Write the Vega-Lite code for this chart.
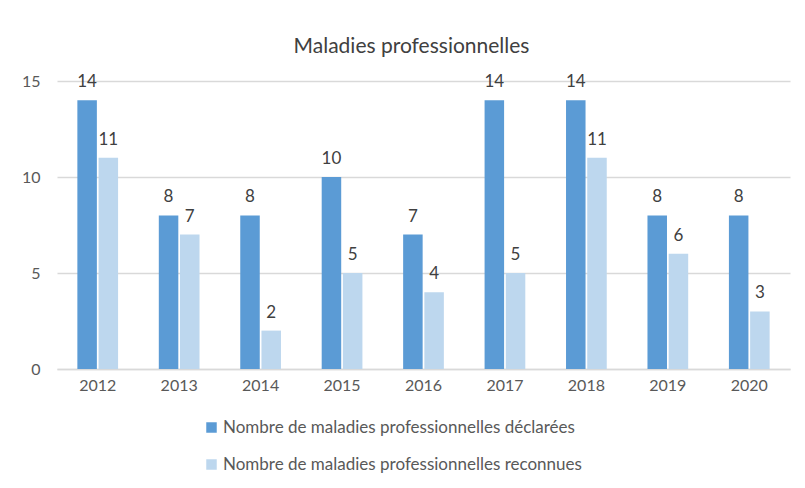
{
  "$schema": "https://vega.github.io/schema/vega-lite/v6.json",
  "width": 733,
  "height": 288,
  "autosize": {"type": "none"},
  "padding": {"left": 57, "top": 81, "right": 15, "bottom": 119},
  "background": "white",
  "title": {
    "text": "Maladies professionnelles",
    "font": "Lato",
    "fontSize": 21,
    "fontWeight": "normal",
    "color": "#404040",
    "anchor": "middle",
    "dx": -12,
    "offset": 16
  },
  "data": {
    "values": [
      {"annee": "2012", "serie": "Nombre de maladies professionnelles déclarées", "valeur": 14},
      {"annee": "2012", "serie": "Nombre de maladies professionnelles reconnues", "valeur": 11},
      {"annee": "2013", "serie": "Nombre de maladies professionnelles déclarées", "valeur": 8},
      {"annee": "2013", "serie": "Nombre de maladies professionnelles reconnues", "valeur": 7},
      {"annee": "2014", "serie": "Nombre de maladies professionnelles déclarées", "valeur": 8},
      {"annee": "2014", "serie": "Nombre de maladies professionnelles reconnues", "valeur": 2},
      {"annee": "2015", "serie": "Nombre de maladies professionnelles déclarées", "valeur": 10},
      {"annee": "2015", "serie": "Nombre de maladies professionnelles reconnues", "valeur": 5},
      {"annee": "2016", "serie": "Nombre de maladies professionnelles déclarées", "valeur": 7},
      {"annee": "2016", "serie": "Nombre de maladies professionnelles reconnues", "valeur": 4},
      {"annee": "2017", "serie": "Nombre de maladies professionnelles déclarées", "valeur": 14},
      {"annee": "2017", "serie": "Nombre de maladies professionnelles reconnues", "valeur": 5},
      {"annee": "2018", "serie": "Nombre de maladies professionnelles déclarées", "valeur": 14},
      {"annee": "2018", "serie": "Nombre de maladies professionnelles reconnues", "valeur": 11},
      {"annee": "2019", "serie": "Nombre de maladies professionnelles déclarées", "valeur": 8},
      {"annee": "2019", "serie": "Nombre de maladies professionnelles reconnues", "valeur": 6},
      {"annee": "2020", "serie": "Nombre de maladies professionnelles déclarées", "valeur": 8},
      {"annee": "2020", "serie": "Nombre de maladies professionnelles reconnues", "valeur": 3}
    ]
  },
  "encoding": {
    "x": {
      "field": "annee",
      "type": "nominal",
      "scale": {"paddingInner": 0.5, "paddingOuter": 0.25},
      "axis": {
        "title": null,
        "labelAngle": 0,
        "labelFont": "Lato",
        "labelFontSize": 16,
        "labelColor": "#595959",
        "labelPadding": 8,
        "ticks": false,
        "domainColor": "#D9D9D9",
        "domainWidth": 1.5
      }
    },
    "xOffset": {
      "field": "serie",
      "type": "nominal",
      "scale": {"paddingInner": 0.08}
    },
    "y": {
      "field": "valeur",
      "type": "quantitative",
      "scale": {"domain": [0, 15]},
      "axis": {
        "title": null,
        "values": [0, 5, 10, 15],
        "labelFont": "Lato",
        "labelFontSize": 16,
        "labelColor": "#595959",
        "labelPadding": 17,
        "ticks": false,
        "domain": false,
        "gridColor": "#D9D9D9",
        "gridWidth": 1.5
      }
    }
  },
  "layer": [
    {
      "mark": {"type": "bar"},
      "encoding": {
        "color": {
          "field": "serie",
          "type": "nominal",
          "scale": {
            "domain": ["Nombre de maladies professionnelles déclarées", "Nombre de maladies professionnelles reconnues"],
            "range": ["#5B9BD5", "#BDD7EE"]
          },
          "legend": {
            "title": null,
            "orient": "none",
            "direction": "vertical",
            "legendX": 146,
            "legendY": 338,
            "symbolType": "square",
            "symbolSize": 110,
            "symbolStrokeWidth": 0,
            "labelFont": "Lato",
            "labelFontSize": 17,
            "labelColor": "#595959",
            "labelOffset": 3,
            "labelLimit": 600,
            "rowPadding": 19
          }
        }
      }
    },
    {
      "mark": {
        "type": "text",
        "baseline": "bottom",
        "dy": -9,
        "font": "Lato",
        "fontSize": 17,
        "color": "#404040"
      },
      "encoding": {
        "text": {"field": "valeur", "type": "quantitative"}
      }
    }
  ],
  "config": {
    "view": {"stroke": null}
  }
}
